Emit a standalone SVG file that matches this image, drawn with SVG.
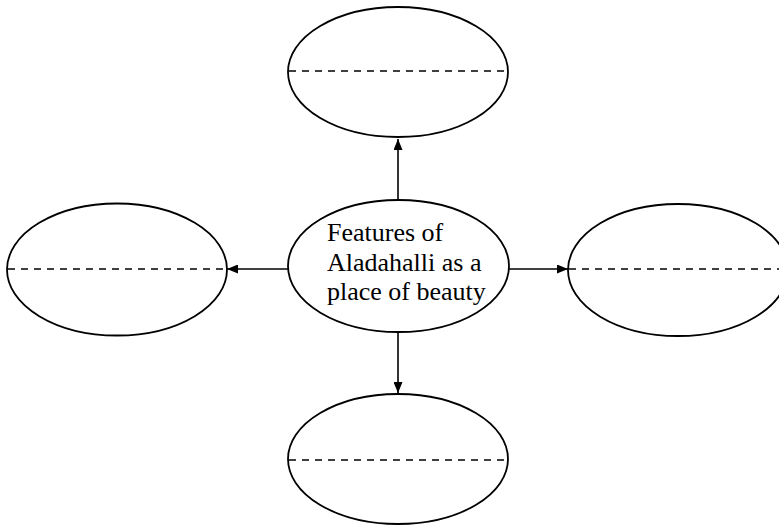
<svg xmlns="http://www.w3.org/2000/svg" width="779" height="525" viewBox="0 0 779 525">
<defs>
<marker id="arr" markerWidth="11" markerHeight="9" refX="11" refY="4.5" orient="auto" markerUnits="userSpaceOnUse">
<path d="M0,0 L11,4.5 L0,9 Z" fill="#000"/>
</marker>
</defs>
<style>
.ell{fill:#fff;stroke:#000;stroke-width:1.8}
.dash{stroke:#000;stroke-width:1.6;stroke-dasharray:7,6}
.conn{stroke:#000;stroke-width:1.6;fill:none}
.lbl{font-family:"Liberation Serif","Times New Roman",serif;font-size:26px;fill:#000}
</style>
<rect width="779" height="525" fill="#fff"/>
<g id="connectors">
<line class="conn" x1="398" y1="200" x2="398" y2="139" marker-end="url(#arr)"/>
<line class="conn" x1="398" y1="332" x2="398" y2="393" marker-end="url(#arr)"/>
<line class="conn" x1="288" y1="269" x2="227" y2="269" marker-end="url(#arr)"/>
<line class="conn" x1="509" y1="269" x2="568" y2="269" marker-end="url(#arr)"/>
</g>
<g id="center">
<ellipse class="ell" cx="398.5" cy="266" rx="110.5" ry="66"/>
<text class="lbl" x="327" y="241">Features of</text>
<text class="lbl" x="327" y="271">Aladahalli as a</text>
<text class="lbl" x="327" y="300">place of beauty</text>
</g>
<g id="top">
<ellipse class="ell" cx="398" cy="72" rx="110" ry="65"/>
<line class="dash" x1="289" y1="71" x2="507" y2="71"/>
</g>
<g id="left">
<ellipse class="ell" cx="117" cy="269.5" rx="110" ry="66"/>
<line class="dash" x1="8" y1="269" x2="226" y2="269"/>
</g>
<g id="right">
<ellipse class="ell" cx="678" cy="270" rx="110" ry="66"/>
<line class="dash" x1="569" y1="269" x2="779" y2="269"/>
</g>
<g id="bottom">
<ellipse class="ell" cx="398" cy="459" rx="110" ry="65"/>
<line class="dash" x1="289" y1="460" x2="507" y2="460"/>
</g>
</svg>
